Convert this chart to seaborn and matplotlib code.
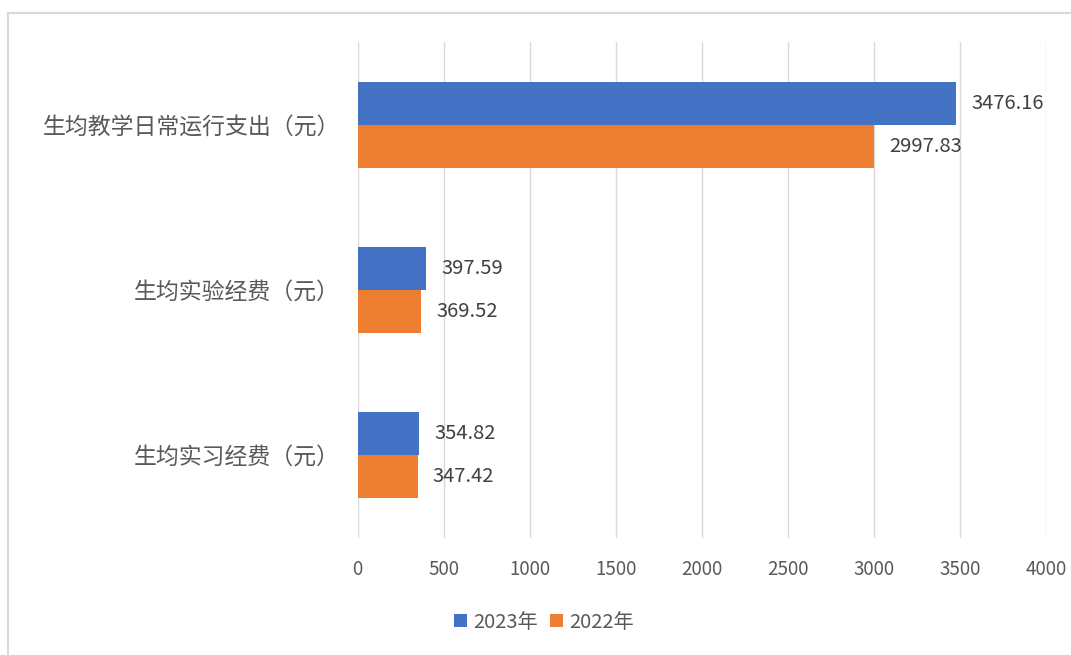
#!/usr/bin/env python3

import matplotlib
matplotlib.use('Agg')
import matplotlib.pyplot as plt
from matplotlib.patches import Rectangle
import pandas as pd
import seaborn as sns

categories = ['生均教学日常运行支出（元）', '生均实验经费（元）', '生均实习经费（元）']
series_names = ['2023年', '2022年']
values_2023 = [3476.16, 397.59, 354.82]
values_2022 = [2997.83, 369.52, 347.42]
x_ticks = [0, 500, 1000, 1500, 2000, 2500, 3000, 3500, 4000]

colors = ['#4472C4', '#ED7D31']

sns.set_theme(style='white')
plt.rcParams['font.family'] = ['Noto Sans CJK SC', 'DejaVu Sans']

df = pd.DataFrame({
	'category': categories * 2,
	'year': [series_names[0]] * 3 + [series_names[1]] * 3,
	'value': values_2023 + values_2022,
})

fig = plt.figure(figsize=(10.71, 6.55), dpi=100)
ax = fig.add_axes([0.334, 0.179, 0.643, 0.757])

sns.barplot(data=df, x='value', y='category', hue='year', order=categories,
	hue_order=series_names, palette=colors, orient='h', width=0.52,
	saturation=1, linewidth=0, ax=ax, legend=True)

ax.set_xlim(0, 4000)
ax.set_xticks(x_ticks)
ax.set_xticklabels([str(t) for t in x_ticks], fontsize=13.5, color='#595959')
ax.set_ylim(2.5, -0.5)
ax.set_xlabel('')
ax.set_ylabel('')
ax.tick_params(axis='y', labelsize=16.5, colors='#595959', length=0, pad=13)
ax.tick_params(axis='x', length=0, pad=15)
ax.xaxis.grid(True, color='#d9d9d9', linewidth=1)
ax.set_axisbelow(True)
for s in ax.spines.values():
	s.set_visible(False)

# data labels
for cont in ax.containers:
	ax.bar_label(cont, labels=['%.2f' % b.get_width() for b in cont],
		padding=11, fontsize=14.5, color='#404040')

h, l = ax.get_legend_handles_labels()
ax.get_legend().remove()
fig.legend(h, l, loc='center', bbox_to_anchor=(0.508, 0.05), ncol=2, frameon=False,
	fontsize=14.5, handlelength=0.65, handleheight=0.65, handletextpad=0.3,
	columnspacing=0.6, labelcolor='#595959')

# outer frame (cropped on right and bottom)
fig.patches.append(Rectangle((8 / 1071, -0.05), 1.1, 1 - 13 / 655 + 0.05,
	transform=fig.transFigure, fill=False, edgecolor='#d9d9d9', linewidth=1.5))

fig.savefig('out.png', dpi=100)
